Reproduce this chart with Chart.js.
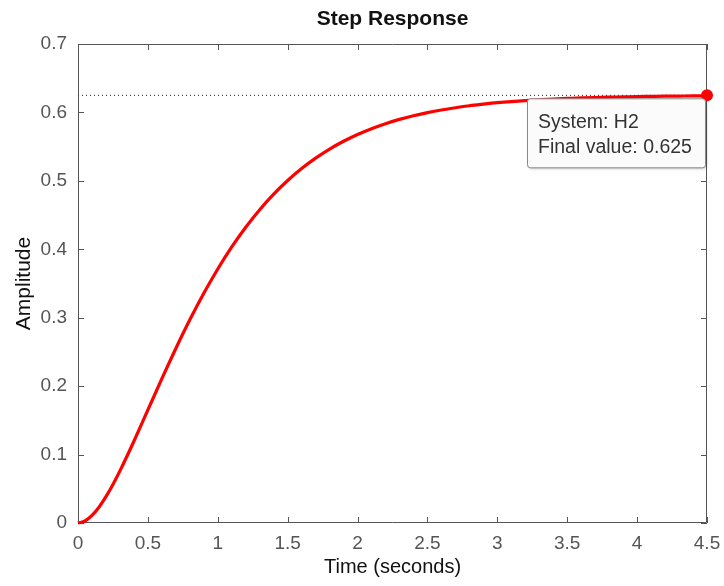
<!DOCTYPE html>
<html><head><meta charset="utf-8">
<script src="https://cdn.jsdelivr.net/npm/chart.js@4/dist/chart.umd.min.js"></script>
<style>html,body{margin:0;padding:0;background:#fff}#wrap{width:724px;height:586px;position:relative}</style>
</head><body><div id="wrap"><canvas id="c" width="724" height="586"></canvas></div>
<script>
const titleText = 'Step Response';
const xTitle = 'Time (seconds)';
const yTitle = 'Amplitude';
const timeSec = [0,0.05,0.1,0.15,0.2,0.25,0.3,0.4,0.5,0.6,0.7,0.8,0.9,1.0,1.1,1.2,1.3,1.4,1.5,1.6,1.7,1.8,1.9,2.0,2.1,2.2,2.3,2.4,2.5,2.6,2.7,2.8,2.9,3.0,3.1,3.2,3.3,3.4,3.5,3.6,3.7,3.8,3.9,4.0,4.1,4.2,4.3,4.4,4.5];
const amplitude = [0,0.0029,0.0110,0.0231,0.0385,0.0564,0.0762,0.1195,0.1652,0.2109,0.2551,0.2969,0.3357,0.3712,0.4034,0.4322,0.4579,0.4806,0.5005,0.5180,0.5332,0.5465,0.5579,0.5678,0.5763,0.5836,0.5898,0.5952,0.5997,0.6036,0.6069,0.6098,0.6121,0.6142,0.6159,0.6173,0.6185,0.6196,0.6204,0.6212,0.6218,0.6223,0.6227,0.6231,0.6234,0.6237,0.6239,0.6241,0.6242];
const finalTime = 4.5;
const finalValue = 0.625;
const tipLines = ['System: H2', 'Final value: 0.625'];
const xTickValues = [0,0.5,1,1.5,2,2.5,3,3.5,4,4.5];
const yTickValues = [0,0.1,0.2,0.3,0.4,0.5,0.6,0.7];

const AX = '#555555';
const FONT = "'Liberation Sans', Arial, Helvetica, sans-serif";

const curve = timeSec.map((t,i)=>({x:t,y:amplitude[i]}));
const refLine = [{x:0,y:finalValue},{x:finalTime,y:finalValue}];
const fmt = v => String(Number(Number(v).toFixed(2)));

const framePlugin = {
  id:'frame',
  beforeDatasetsDraw(chart){
    const {ctx, chartArea:a, scales:{x,y}} = chart;
    ctx.save();
    ctx.strokeStyle = AX; ctx.lineWidth = 1;
    ctx.beginPath();
    ctx.rect(a.left+0.5, a.top+0.5, a.right-a.left-1, a.bottom-a.top-1);
    ctx.stroke();
    const tl = 6;
    ctx.beginPath();
    x.ticks.forEach(t=>{
      const px = Math.round(x.getPixelForValue(t.value))+0.5;
      ctx.moveTo(px, a.bottom); ctx.lineTo(px, a.bottom-tl);
      ctx.moveTo(px, a.top); ctx.lineTo(px, a.top+tl);
    });
    y.ticks.forEach(t=>{
      const py = Math.round(y.getPixelForValue(t.value))+0.5;
      ctx.moveTo(a.left, py); ctx.lineTo(a.left+tl, py);
      ctx.moveTo(a.right, py); ctx.lineTo(a.right-tl, py);
    });
    ctx.stroke();
    ctx.fillStyle = '#111';
    ctx.font = 'bold 21px ' + FONT;
    ctx.textAlign = 'center'; ctx.textBaseline = 'middle';
    ctx.fillText(titleText, (a.left+a.right)/2, 19);
    ctx.restore();
  },
  afterDatasetsDraw(chart){
    const {ctx, scales:{x,y}} = chart;
    const px = x.getPixelForValue(finalTime), py = y.getPixelForValue(finalValue);
    const right = px - 2, top = py + 3, w = 178, h = 69;
    const left = right - w;
    ctx.save();
    ctx.shadowColor = 'rgba(0,0,0,0.25)'; ctx.shadowBlur = 3; ctx.shadowOffsetX = 1; ctx.shadowOffsetY = 1;
    ctx.fillStyle = '#fbfbfb';
    ctx.beginPath();
    if (ctx.roundRect) ctx.roundRect(left+0.5, top+0.5, w, h, 3); else ctx.rect(left+0.5, top+0.5, w, h);
    ctx.fill();
    ctx.shadowColor = 'transparent';
    ctx.strokeStyle = '#8a8a8a'; ctx.lineWidth = 1; ctx.stroke();
    ctx.fillStyle = '#333';
    ctx.font = '19.5px ' + FONT;
    ctx.textAlign = 'left'; ctx.textBaseline = 'alphabetic';
    ctx.fillText(tipLines[0], left+11, top+30);
    ctx.fillText(tipLines[1], left+11, top+55);
    ctx.restore();
  }
};

new Chart(document.getElementById('c'), {
  type:'line',
  data:{datasets:[
    {data:refLine, borderColor:'#444', borderWidth:1.2, borderDash:[1,3], pointRadius:0, fill:false, order:3},
    {data:curve, borderColor:'#ff0000', borderWidth:3.2, pointRadius:0, cubicInterpolationMode:'monotone', fill:false, clip:false, order:2},
    {data:[{x:finalTime,y:finalValue}], borderColor:'#ff0000', backgroundColor:'#ff0000', pointRadius:6, pointBorderWidth:0, showLine:false, clip:false, order:1}
  ]},
  options:{
    responsive:false, animation:false, devicePixelRatio:1,
    layout:{padding:{left:0,right:17,top:44,bottom:0}},
    plugins:{legend:{display:false}, tooltip:{enabled:false}, title:{display:false}},
    events:[],
    scales:{
      x:{type:'linear', min:0, max:4.5,
        afterBuildTicks(s){ s.ticks = xTickValues.map(v=>({value:v})); },
        afterFit(s){ s.height = 63; s.paddingLeft = 0; s.paddingRight = 0; },
        grid:{display:false, drawTicks:false}, border:{display:false},
        ticks:{color:AX, padding:9, font:{family:FONT, size:19}, maxRotation:0, autoSkip:false, callback:fmt},
        title:{display:true, text:xTitle, color:'#111', font:{family:FONT, size:20}, padding:{top:0,bottom:7}}
      },
      y:{type:'linear', min:0, max:0.7,
        afterBuildTicks(s){ s.ticks = yTickValues.map(v=>({value:v})); },
        afterFit(s){ s.width = 78; s.paddingTop = 0; s.paddingBottom = 0; },
        grid:{display:false, drawTicks:false}, border:{display:false},
        ticks:{color:AX, padding:11, font:{family:FONT, size:19}, autoSkip:false, callback:fmt},
        title:{display:true, text:yTitle, color:'#111', font:{family:FONT, size:21}, padding:{top:12,bottom:0}}
      }
    }
  },
  plugins:[framePlugin]
});
</script></body></html>
